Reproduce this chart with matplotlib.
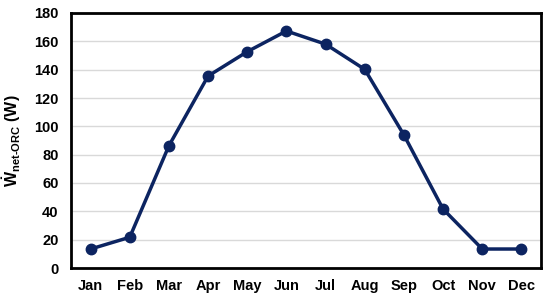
import matplotlib
matplotlib.use("Agg")
import matplotlib.pyplot as plt

months = ["Jan", "Feb", "Mar", "Apr", "May", "Jun", "Jul", "Aug", "Sep", "Oct", "Nov", "Dec"]
w_net = [13.4, 21.7, 86.3, 135.5, 152.7, 167.3, 158.0, 140.2, 93.9, 41.6, 13.4, 13.4]

plt.rcParams['font.family'] = 'Liberation Sans'
plt.rcParams['font.weight'] = 'bold'
plt.rcParams['mathtext.fontset'] = 'custom'
plt.rcParams['mathtext.rm'] = 'Liberation Sans:bold'
plt.rcParams['mathtext.it'] = 'Liberation Sans:bold'
plt.rcParams['mathtext.bf'] = 'Liberation Sans:bold'

fig = plt.figure(figsize=(5.5, 2.98), dpi=100)
ax = fig.add_axes([71 / 550, 1 - 268 / 298, 470 / 550, 255 / 298])

x = range(len(months))
ax.plot(x, w_net, color='#0c2461', linewidth=2.5, marker='o', markersize=7.5, zorder=3)

ax.set_xlim(-0.5, 11.5)
ax.set_ylim(0, 180)
ax.set_yticks(range(0, 181, 20))
ax.set_xticks(list(x))
ax.set_xticklabels(months)
ax.tick_params(axis='both', length=0, labelsize=10.5, pad=8)
ax.tick_params(axis='y', pad=9)
ax.grid(axis='y', color='#d9d9d9', linewidth=1)
ax.set_axisbelow(True)
for s in ax.spines.values():
    s.set_color('black')
    s.set_linewidth(2)

ax.set_ylabel(r'$\mathrm{\dot{W}_{net\text{-}ORC}}$ (W)', fontsize=11.5, fontweight='bold', labelpad=8)

fig.savefig("out.png", dpi=100)
